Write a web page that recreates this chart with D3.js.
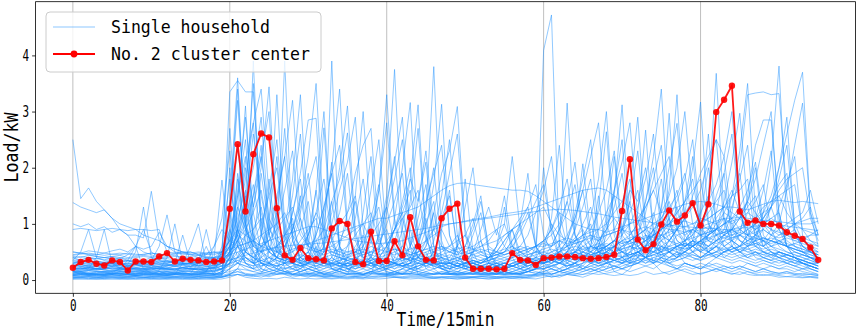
<!DOCTYPE html>
<html><head><meta charset="utf-8">
<script src="https://cdn.jsdelivr.net/npm/d3@7/dist/d3.min.js"></script>
<style>html,body{margin:0;padding:0;background:#fff;}svg{display:block;}</style>
</head><body>
<svg id="chart" width="858" height="331"></svg>
<script>
// ---------- DATA ----------
const timeIndex = Array.from({length: 96}, (_, i) => i);
const xTickValues = [0, 20, 40, 60, 80];
const yTickValues = [0, 1, 2, 3, 4];
const xTitle = "Time/15min";
const yTitle = "Load/kW";
const legendLabels = ["Single household", "No. 2 cluster center"];

const clusterCenter = [
 0.22,0.32,0.36,0.29,0.26,0.35,0.32,0.17,0.33,0.33,0.32,0.42,
 0.48,0.33,0.38,0.36,0.35,0.32,0.33,0.35,1.27,2.42,1.22,2.24,
 2.61,2.54,1.28,0.44,0.36,0.57,0.39,0.37,0.35,0.92,1.05,1.00,
 0.32,0.28,0.86,0.34,0.34,0.69,0.44,1.12,0.60,0.36,0.35,1.10,
 1.27,1.36,0.40,0.20,0.20,0.20,0.19,0.20,0.48,0.36,0.35,0.27,
 0.39,0.40,0.42,0.42,0.41,0.39,0.38,0.39,0.41,0.45,1.23,2.15,
 0.72,0.53,0.64,0.99,1.24,1.04,1.15,1.37,0.97,1.35,2.99,3.21,
 3.46,1.22,1.02,1.06,1.00,1.00,0.97,0.85,0.79,0.73,0.58,0.36];

const hh01 = [2.5,1.45,1.64,1.4,1.25,1.1,0.9,0.8,0.6,0.5,0.45,0.4,
 0.35,0.3,0.3,0.25,0.3,0.3,0.25,0.3,0.9,0.4,0.6,3.9,
 0.8,0.5,0.4,0.3,0.3,0.25,0.3,0.6,0.3,0.2,0.2,0.3,
 0.25,0.2,0.3,0.2,0.2,0.25,0.3,0.2,0.2,0.3,0.25,0.2,
 0.2,0.25,0.2,0.3,0.2,0.2,0.15,0.2,0.3,0.25,0.2,0.2,
 0.3,0.4,0.3,0.25,0.3,0.5,0.4,0.3,0.3,0.6,0.4,0.3,
 0.5,0.4,0.3,0.6,0.5,0.4,0.7,0.5,0.4,0.5,0.6,0.4,
 0.5,0.4,0.45,0.5,0.4,0.35,0.5,0.4,0.3,0.35,0.3,0.25];
const hh02 = [1.38,1.3,1.25,1.2,1.25,1.1,1.0,0.95,0.9,0.8,0.75,0.7,
 0.6,0.55,0.5,0.45,0.4,0.4,0.35,0.4,3.35,3.55,3.35,3.35,
 1.2,0.6,0.4,0.35,0.3,0.4,0.3,0.35,0.3,0.3,0.25,0.3,
 0.3,0.25,0.3,0.3,0.35,0.3,0.25,0.3,0.3,0.25,0.3,0.3,
 0.3,0.25,0.3,0.3,0.25,0.25,0.3,0.3,0.25,0.3,0.3,0.35,
 0.4,0.35,0.3,0.4,0.45,0.4,0.35,0.4,0.5,0.45,0.4,0.45,
 0.5,0.55,0.5,0.6,0.55,0.5,0.6,0.65,0.6,0.55,0.6,0.5,
 0.55,0.6,0.5,0.55,0.5,0.45,0.5,0.45,0.4,0.45,0.4,0.35];
const hh03 = [1.0,0.95,1.0,0.9,0.95,0.85,0.9,0.8,0.8,0.75,1.58,0.7,
 0.6,0.55,0.5,0.5,0.45,0.4,0.4,0.45,0.5,1.8,0.9,0.6,
 0.5,0.6,0.5,3.9,0.7,0.4,0.35,0.3,0.3,0.35,0.3,0.3,
 0.4,0.3,0.25,0.3,0.35,0.3,0.3,0.25,0.3,0.3,0.35,0.3,
 0.3,0.3,0.25,0.2,0.25,0.3,0.25,0.2,0.25,0.3,0.3,0.25,
 0.3,0.35,0.3,0.3,0.4,0.35,0.3,0.35,0.4,0.35,0.4,0.45,
 0.5,0.4,0.45,0.5,0.6,0.55,0.5,0.6,0.5,0.45,0.5,0.55,
 0.6,0.5,0.55,0.5,0.45,0.5,0.4,0.45,0.4,0.35,0.4,0.3];
const hh04 = [0.15,0.1,0.12,0.1,0.1,0.12,0.1,0.1,0.12,0.1,0.1,0.15,
 0.12,0.1,0.1,0.12,0.1,0.15,0.4,1.78,0.5,0.3,0.2,0.15,
 0.2,0.15,0.2,0.15,0.1,0.15,0.2,0.3,0.5,3.9,0.4,0.2,
 0.15,0.1,0.15,0.1,0.12,0.15,0.1,0.12,0.1,0.15,0.1,0.12,
 0.1,0.15,0.12,0.1,0.1,0.12,0.1,0.1,0.15,0.12,0.2,0.3,
 4.09,4.72,0.6,0.3,0.2,0.15,0.2,0.15,0.2,0.25,0.2,0.15,
 0.2,0.25,0.2,0.3,0.25,0.2,0.3,0.25,0.2,0.3,0.25,0.2,
 0.25,0.2,0.3,0.25,0.2,0.25,0.2,0.2,0.15,0.2,0.15,0.1];
const hh05 = [0.3,0.35,0.3,0.3,0.25,0.3,0.3,0.25,0.3,0.3,0.35,0.6,
 1.16,0.5,0.3,0.3,0.25,0.3,0.3,0.3,0.5,0.8,1.2,0.7,
 0.5,0.4,0.35,0.3,0.3,0.35,0.3,0.3,0.25,0.3,0.3,0.35,
 0.3,0.3,0.4,0.8,1.5,3.75,0.9,0.4,0.3,0.3,0.35,0.3,
 0.3,0.25,0.3,0.3,0.25,0.3,0.3,0.25,0.3,0.3,0.35,0.3,
 0.3,0.35,0.6,3.15,0.8,0.4,0.35,0.3,0.35,0.4,0.35,0.3,
 0.35,0.4,0.45,0.4,0.5,0.45,0.5,0.6,0.5,0.6,0.7,0.8,
 1.2,2.0,3.3,3.33,3.35,3.3,3.32,1.5,0.8,0.6,0.5,0.4];
const hh06 = [0.2,0.2,0.25,0.2,0.2,0.25,0.3,0.25,0.2,0.2,0.25,0.2,
 0.25,0.3,0.8,0.3,0.25,0.2,0.2,0.25,0.5,1.2,2.1,2.8,
 3.4,1.5,0.6,0.4,0.3,0.25,0.3,0.25,0.2,0.25,0.3,0.25,
 0.2,0.25,0.3,0.25,0.2,0.3,0.25,0.3,0.6,1.2,3.8,0.7,
 0.3,0.25,0.2,0.25,0.2,0.2,0.25,0.2,0.25,0.2,0.25,0.3,
 0.3,0.25,0.3,0.35,0.3,0.4,0.35,0.5,0.9,1.5,3.12,0.9,
 0.5,0.4,0.35,0.4,0.35,0.4,0.45,0.4,0.35,0.4,0.45,0.4,
 0.35,0.4,0.35,0.3,0.35,0.3,0.25,0.3,0.25,0.2,0.25,0.2];
const hh07 = [0.1,0.08,0.1,0.1,0.08,0.1,0.12,0.1,0.08,0.1,0.1,0.12,
 0.1,0.1,0.12,0.1,0.1,0.08,0.1,0.12,0.3,0.9,0.5,0.4,
 0.6,0.3,0.2,0.5,1.2,1.9,2.85,2.88,0.6,0.2,0.15,0.1,
 0.12,0.1,0.15,0.2,0.4,1.1,2.0,3.16,0.7,0.2,0.15,0.1,
 0.12,0.1,0.1,0.12,0.1,0.1,0.12,0.1,0.1,0.12,0.15,0.2,
 0.2,0.3,0.2,0.25,0.3,0.2,0.3,0.4,0.3,0.5,0.4,0.6,
 0.5,0.4,0.7,1.2,2.97,0.9,0.6,0.5,0.7,1.5,3.68,1.1,
 0.6,0.5,0.45,0.5,0.4,0.45,0.4,0.35,0.4,0.3,0.25,0.2];
const hh08 = [0.4,0.35,0.4,0.35,0.3,0.35,0.4,0.35,0.3,0.35,0.4,0.35,
 0.3,0.35,0.3,0.3,0.35,0.3,0.35,0.4,0.6,1.5,2.2,1.3,
 2.0,3.44,1.0,0.5,0.4,0.35,0.3,0.35,0.6,1.4,1.8,2.62,
 0.8,0.4,0.35,0.3,0.35,0.3,0.4,0.35,0.4,0.6,1.2,1.9,
 2.3,3.09,0.9,0.4,0.35,0.3,0.35,0.3,0.35,0.4,0.35,0.3,
 0.35,0.4,0.35,0.4,0.5,0.45,0.4,0.5,0.45,0.6,0.5,0.55,
 0.6,0.7,0.6,0.8,0.7,0.9,1.2,2.0,3.17,1.0,0.7,0.6,
 0.7,0.6,0.65,0.7,0.6,0.8,1.0,1.6,2.4,3.15,1.2,0.8];
const hh09 = [0.3,0.3,0.28,0.3,0.28,0.3,0.28,0.26,0.28,0.3,0.28,0.3,
 0.3,0.32,0.3,0.3,0.32,0.34,0.4,0.5,0.7,0.9,0.8,0.7,
 0.6,0.55,0.5,0.5,0.55,0.6,0.65,0.7,0.75,0.8,0.85,0.9,
 0.95,1.0,1.05,1.1,1.1,1.15,1.2,1.25,1.3,1.4,1.5,1.6,
 1.68,1.72,1.73,1.7,1.68,1.66,1.64,1.62,1.6,1.6,1.58,1.5,
 1.4,1.3,1.2,1.1,1.0,0.95,0.9,0.9,0.85,0.9,0.95,1.0,
 1.05,1.1,1.15,1.2,1.25,1.3,1.35,1.38,1.4,1.38,1.35,1.3,
 1.3,1.28,1.25,1.3,1.35,1.4,1.42,1.4,1.38,1.4,1.38,1.36];
const hh10 = [0.5,0.48,0.45,0.42,0.4,0.38,0.36,0.35,0.34,0.33,0.32,0.32,
 0.32,0.33,0.34,0.35,0.36,0.38,0.4,0.42,0.45,0.5,0.55,0.6,
 0.65,0.7,0.75,0.8,0.85,0.9,0.95,0.95,0.9,0.85,0.8,0.75,
 0.7,0.68,0.66,0.65,0.66,0.68,0.7,0.75,0.8,0.85,0.9,0.95,
 1.0,1.02,1.05,1.08,1.1,1.12,1.15,1.18,1.2,1.22,1.25,1.3,
 1.35,1.4,1.45,1.5,1.55,1.6,1.62,1.64,1.6,1.5,1.4,1.3,
 1.2,1.1,1.0,0.95,0.9,0.9,0.85,0.9,0.95,1.0,1.05,1.1,
 1.1,1.12,1.1,1.08,1.06,1.05,1.04,1.02,1.0,1.0,1.0,1.05];
const hh11 = [0.15,0.15,0.12,0.15,0.15,0.12,0.15,0.15,0.12,0.15,0.15,0.12,
 0.15,0.12,0.15,0.15,0.12,0.15,0.15,0.2,0.8,1.6,2.9,1.2,
 0.5,0.3,0.2,0.15,0.15,0.2,0.3,0.9,2.71,0.7,0.2,0.15,
 0.15,0.2,0.15,0.15,0.2,0.4,0.9,1.8,3.12,0.8,0.3,0.2,
 0.15,0.15,0.2,0.15,0.15,0.2,0.15,0.15,0.2,0.15,0.2,0.25,
 0.2,0.25,0.3,0.25,0.3,0.4,0.6,1.3,2.64,0.8,0.4,0.3,
 0.3,0.4,0.35,0.3,0.4,0.5,0.4,0.5,0.6,0.5,0.7,0.9,
 1.5,2.3,3.5,1.2,0.6,0.5,0.4,0.45,0.4,0.35,0.3,0.3];
const hh12 = [0.2,0.22,0.2,0.18,0.2,0.22,0.2,0.18,0.2,0.2,0.22,0.2,
 0.18,0.2,0.22,0.2,0.18,0.2,0.22,0.3,1.1,3.2,1.0,0.5,
 0.3,0.25,0.2,0.22,0.2,0.25,0.3,0.4,0.6,1.0,1.6,2.1,
 2.9,0.9,0.4,0.3,0.25,0.2,0.25,0.3,0.5,0.9,1.7,3.13,
 0.8,0.3,0.25,0.2,0.2,0.22,0.2,0.2,0.25,0.3,0.25,0.3,
 0.35,0.3,0.4,0.5,0.9,2.07,0.8,0.5,0.4,0.45,0.5,0.4,
 0.5,0.6,0.8,1.3,2.0,2.79,1.1,0.7,0.6,0.5,0.6,0.7,
 0.6,0.5,0.6,0.7,1.2,2.1,3.81,1.0,0.6,0.5,0.4,0.35];
const hh13 = [0.05,0.05,0.06,0.05,0.05,0.06,0.05,0.05,0.06,0.05,0.05,0.06,
 0.05,0.06,0.05,0.05,0.06,0.05,0.05,0.1,2.0,0.6,0.3,0.2,
 0.8,1.6,2.5,0.9,0.3,0.1,0.08,0.06,0.05,0.06,0.05,0.1,
 0.4,1.2,2.2,0.5,0.1,0.06,0.05,0.06,0.05,0.06,0.05,0.06,
 0.05,0.06,0.05,0.05,0.06,0.05,0.05,0.06,0.05,0.05,0.06,0.1,
 0.2,0.1,0.15,0.2,0.3,0.25,0.4,0.6,1.1,2.2,0.7,0.3,
 1.2,2.67,0.8,0.4,0.3,0.2,0.3,0.25,0.2,0.3,0.4,0.5,
 0.6,0.8,1.5,2.4,2.85,2.85,1.2,0.6,0.4,0.3,0.2,0.15];
const hh14 = [0.25,0.3,0.28,0.25,0.3,0.28,0.25,0.3,0.28,0.25,0.3,0.28,
 0.25,0.3,0.28,0.3,0.35,0.3,0.28,0.35,0.6,0.9,1.4,2.6,
 1.5,0.8,1.4,2.2,3.2,1.1,0.5,0.35,0.3,0.28,0.3,0.25,
 0.3,0.28,0.35,0.5,1.2,1.8,2.5,0.9,0.4,0.3,0.28,0.3,
 0.3,0.35,0.3,0.5,0.9,1.3,0.8,1.5,0.6,0.4,0.35,0.3,
 0.35,0.3,0.35,0.4,0.35,0.4,0.45,0.5,0.6,0.5,0.6,0.7,
 0.8,1.2,1.8,2.4,1.0,0.7,0.6,0.7,0.6,0.8,0.9,1.4,
 2.1,2.97,1.3,0.8,0.7,0.6,0.7,0.6,0.55,0.5,0.45,0.4];
const hh15 = [0.12,0.14,0.12,0.1,0.12,0.14,0.12,0.1,0.12,0.14,0.12,0.1,
 0.12,0.14,0.12,0.1,0.12,0.14,0.12,0.2,0.4,0.7,0.5,0.9,
 1.3,0.6,0.4,0.8,1.5,2.6,0.7,0.4,1.0,2.1,0.6,0.3,
 0.2,0.3,0.7,1.6,2.8,1.0,0.4,0.2,0.15,0.2,0.3,0.2,
 0.15,0.2,0.4,0.8,1.2,0.5,0.3,0.2,0.15,0.2,0.3,0.6,
 2.0,0.8,0.4,0.3,0.5,0.7,0.5,0.4,0.8,1.6,2.1,2.8,
 1.1,0.6,0.5,0.7,0.9,1.3,0.8,0.6,0.9,1.4,1.7,2.2,
 1.0,0.7,0.6,0.8,1.1,1.4,1.7,1.9,0.9,0.6,0.5,0.45];
const hh16 = [0.9,0.92,0.9,0.88,0.9,0.92,0.9,0.88,0.9,0.9,0.88,0.9,
 0.5,0.48,0.5,0.48,0.5,0.48,0.5,0.5,0.6,0.7,1.0,1.5,
 2.2,1.1,0.8,0.6,0.5,0.6,0.8,1.2,0.9,0.6,0.5,0.6,
 0.8,1.0,0.7,0.5,0.6,0.9,1.3,1.8,1.4,2.3,0.9,0.6,
 0.5,0.6,0.5,0.45,0.5,0.55,0.5,0.45,0.5,0.55,0.6,0.5,
 0.55,0.6,0.7,0.6,0.65,0.7,0.8,0.7,0.9,1.1,0.9,0.8,
 1.0,1.3,1.6,1.2,1.5,2.0,3.0,1.4,0.9,0.8,1.0,1.2,
 1.1,0.9,0.8,0.9,1.0,0.9,0.8,0.85,0.8,0.75,0.8,0.8];
const hh17 = [0.18,0.16,0.18,0.2,0.18,0.16,0.18,0.2,0.18,0.16,0.18,0.2,
 0.18,0.16,0.18,0.2,0.18,0.16,0.3,0.5,0.9,2.4,1.0,0.6,
 1.9,0.9,3.3,1.0,0.5,0.3,0.25,0.2,0.3,0.4,0.3,0.25,
 0.3,0.6,1.1,1.7,0.6,0.3,0.25,0.3,0.4,0.6,0.9,1.5,
 2.5,0.8,0.4,0.3,0.25,0.2,0.25,0.3,0.25,0.2,0.3,0.35,
 0.3,0.4,0.5,0.6,0.9,1.3,1.8,0.7,0.4,0.5,0.8,1.4,
 2.3,0.9,0.6,0.5,0.7,0.9,1.1,0.8,0.6,0.9,1.5,1.9,
 2.6,1.2,0.8,0.6,0.7,0.9,1.3,1.7,2.2,0.8,0.5,0.4];
const hh18 = [0.08,0.1,0.08,0.1,0.08,0.1,0.08,0.1,0.08,0.1,0.08,0.1,
 0.08,0.1,0.3,0.6,1.0,0.3,0.1,0.08,0.5,1.3,3.1,0.8,
 0.3,0.2,0.15,0.3,0.7,1.1,0.6,1.6,0.5,0.2,0.15,0.4,
 1.5,3.0,0.9,0.3,0.15,0.1,0.12,0.1,0.3,0.5,0.2,0.1,
 0.15,0.6,1.8,0.5,0.2,0.15,0.1,0.2,0.5,1.0,1.9,0.6,
 0.3,0.2,0.15,0.2,0.3,0.2,0.25,0.3,0.2,0.4,0.3,0.5,
 0.8,1.4,2.0,0.9,0.5,0.4,0.5,0.7,1.2,2.6,1.0,0.6,
 0.5,0.6,0.8,1.1,1.6,2.3,0.9,0.6,0.5,0.45,0.4,0.35];
const hh19 = [0.22,0.2,0.22,0.2,0.22,0.2,0.22,0.2,0.22,0.2,0.22,0.2,
 0.22,0.2,0.22,0.2,0.22,0.2,0.22,0.2,0.3,0.5,0.3,0.25,
 0.4,0.9,1.5,2.2,0.7,0.4,0.3,0.5,1.2,2.0,3.4,0.9,
 0.4,0.3,0.25,0.3,0.5,0.9,1.4,2.0,0.7,0.3,0.25,0.3,
 0.25,0.3,0.25,0.2,0.25,0.3,0.25,0.2,0.3,0.35,0.3,0.4,
 0.6,1.1,2.4,0.8,0.5,0.4,0.35,0.4,0.5,0.6,0.5,0.6,
 0.7,0.6,0.8,0.9,1.1,1.4,1.8,2.5,1.0,0.7,0.6,0.8,
 0.9,0.8,0.7,0.8,0.9,0.8,0.9,1.0,1.1,1.2,1.6,1.0];
const hh20 = [0.03,0.02,0.03,0.02,0.03,0.02,0.03,0.02,0.03,0.02,0.03,0.02,
 0.03,0.02,0.03,0.02,0.03,0.02,0.03,0.05,0.1,0.2,0.1,0.08,
 0.05,0.1,0.15,0.1,0.05,0.08,0.05,0.1,0.05,0.03,0.05,0.03,
 0.05,0.03,0.1,0.5,1.4,2.1,2.9,0.6,0.1,0.05,0.03,0.05,
 0.03,0.02,0.03,0.05,0.03,0.02,0.03,0.05,0.03,0.02,0.05,0.08,
 0.1,0.05,0.08,0.1,0.15,0.3,0.6,1.5,0.4,0.15,0.1,0.08,
 0.1,0.15,0.1,0.12,0.15,0.2,0.15,0.1,0.12,0.15,0.2,0.15,
 0.12,0.1,0.15,0.1,0.08,0.1,0.08,0.06,0.08,0.05,0.06,0.05];
const hh21 = [0.12,0.15,0.1,0.14,0.12,0.1,0.15,0.12,0.1,0.14,0.12,0.15,
 0.1,0.12,0.15,0.1,0.14,0.12,0.1,0.15,0.3,0.6,0.4,0.3,
 0.8,1.8,0.6,0.3,0.2,0.15,0.12,0.1,0.15,0.2,0.15,0.12,
 0.1,0.15,0.2,0.3,0.2,0.15,0.1,0.2,0.4,0.7,1.2,0.4,
 0.2,0.15,0.12,0.1,0.15,0.12,0.1,0.15,0.12,0.1,0.15,0.2,
 0.25,0.2,0.3,0.25,0.3,0.4,0.3,0.35,0.5,0.7,0.9,1.4,
 0.6,0.4,0.3,0.4,0.5,0.4,0.6,0.7,0.5,0.8,1.2,1.9,
 0.7,0.5,0.4,0.5,0.45,0.4,0.5,0.45,0.4,0.35,0.3,0.25];
const hh22 = [0.42,0.4,0.44,0.42,0.4,0.42,0.44,0.4,0.42,0.44,0.42,0.4,
 0.42,0.44,0.4,0.42,0.44,0.42,0.4,0.42,0.6,0.8,0.7,0.5,
 0.6,0.9,0.7,0.6,0.9,1.5,0.7,0.5,0.45,0.5,0.45,0.4,
 0.45,0.5,0.45,0.4,0.45,0.5,0.6,0.5,0.45,0.5,0.55,0.6,
 0.5,0.45,0.6,0.9,1.4,0.6,0.5,0.45,0.5,0.55,0.5,0.6,
 0.7,0.6,0.9,1.2,1.7,0.8,0.6,0.55,0.6,0.7,0.6,0.65,
 0.7,0.8,0.7,0.75,0.9,0.8,0.85,0.9,0.8,0.85,0.9,1.0,
 1.1,1.3,1.6,2.1,1.0,0.8,0.7,0.75,0.7,0.65,0.6,0.55];
const hh23 = [0.08,0.1,0.12,0.1,0.08,0.1,0.12,0.1,0.08,0.1,0.12,0.1,
 0.08,0.1,0.12,0.1,0.08,0.1,0.12,0.1,0.2,0.3,0.25,0.2,
 0.3,0.2,0.25,0.3,0.2,0.15,0.2,0.15,0.12,0.15,0.2,0.15,
 0.12,0.1,0.15,0.12,0.1,0.15,0.12,0.2,0.15,0.12,0.1,0.15,
 0.12,0.1,0.15,0.2,0.15,0.3,0.6,1.3,0.4,0.2,0.15,0.12,
 0.15,0.2,0.15,0.2,0.25,0.2,0.3,0.25,0.3,0.35,0.3,0.4,
 0.5,0.4,0.6,0.9,1.2,1.6,0.7,0.5,0.4,0.5,0.6,0.5,
 0.45,0.5,0.4,0.45,0.4,0.35,0.4,0.3,0.35,0.3,0.25,0.2];
const hh24 = [0.25,0.28,0.25,0.3,0.28,0.25,0.3,0.28,0.5,1.3,0.4,0.3,
 0.28,0.25,0.3,0.28,0.25,0.3,0.6,1.1,2.3,0.9,0.5,0.4,
 0.35,0.3,0.4,0.35,0.3,0.4,0.5,0.7,0.9,1.4,0.6,0.4,
 0.35,0.3,0.35,0.4,0.35,0.3,0.35,0.4,0.35,0.4,0.45,0.4,
 0.35,0.4,0.35,0.3,0.35,0.4,0.45,0.5,0.7,1.0,1.3,1.7,
 0.8,0.5,0.4,0.45,0.5,0.6,0.5,0.7,0.9,1.3,1.9,0.9,
 0.6,0.5,0.6,0.7,0.6,0.8,0.7,0.9,0.8,0.7,0.9,0.8,
 0.9,1.1,1.4,1.2,1.0,1.3,1.8,2.4,1.0,0.7,0.6,0.5];
const hh25 = [0.15,0.18,0.2,0.4,0.9,0.3,0.2,0.18,0.15,0.18,0.2,0.15,
 0.18,0.2,0.15,0.18,0.2,0.15,0.18,0.2,0.3,0.4,0.5,0.4,
 0.3,0.4,0.5,0.6,0.8,1.2,1.9,0.7,0.4,0.3,0.25,0.2,
 0.2,0.25,0.3,0.2,0.25,0.3,0.25,0.2,0.25,0.3,0.5,0.4,
 0.3,0.6,1.3,2.0,0.7,0.3,0.25,0.2,0.25,0.3,0.25,0.3,
 0.35,0.4,0.5,0.7,1.2,1.8,2.5,0.8,0.5,0.4,0.35,0.4,
 0.5,0.6,1.1,1.8,0.8,0.6,0.5,0.6,0.7,0.6,0.5,0.6,
 0.7,0.9,1.2,1.4,1.7,0.9,0.6,0.5,0.45,0.4,0.35,0.3];
const hh26 = [0.35,0.34,0.33,0.32,0.31,0.3,0.3,0.29,0.28,0.28,0.27,0.27,
 0.27,0.28,0.28,0.29,0.3,0.31,0.32,0.34,0.36,0.4,0.44,0.48,
 0.52,0.55,0.58,0.6,0.62,0.63,0.64,0.65,0.66,0.68,0.7,0.72,
 0.74,0.76,0.78,0.8,0.82,0.84,0.86,0.88,0.9,0.92,0.95,0.98,
 1.0,1.02,1.04,1.06,1.08,1.1,1.12,1.14,1.16,1.18,1.2,1.22,
 1.24,1.25,1.26,1.25,1.24,1.22,1.2,1.18,1.15,1.12,1.1,1.08,
 1.06,1.04,1.02,1.0,0.98,0.96,0.95,0.94,0.93,0.92,0.91,0.9,
 0.9,0.92,0.94,0.96,0.98,1.0,0.98,0.96,0.94,0.92,0.9,0.88];
const hh27 = [0.1,0.12,0.1,0.08,0.1,0.12,0.1,0.08,0.1,0.12,0.1,0.08,
 0.1,0.12,0.1,0.08,0.1,0.12,0.1,0.15,0.4,0.9,1.5,0.5,
 0.2,0.15,0.1,0.12,0.1,0.15,0.2,0.15,0.1,0.12,0.15,0.1,
 0.12,0.1,0.15,0.12,0.1,0.15,0.2,0.3,0.6,1.1,0.4,0.2,
 0.15,0.12,0.1,0.15,0.12,0.1,0.12,0.15,0.1,0.12,0.15,0.2,
 0.5,1.0,0.4,0.2,0.15,0.2,0.25,0.2,0.3,0.25,0.2,0.3,
 0.35,0.3,0.4,0.35,0.3,0.4,0.5,0.4,0.35,0.45,0.5,0.7,
 0.9,1.3,0.6,0.4,0.35,0.3,0.35,0.3,0.25,0.3,0.25,0.2];
const hh28 = [0.3,0.32,0.3,0.28,0.3,0.32,0.3,0.28,0.3,0.32,0.3,0.28,
 0.3,0.32,0.3,0.28,0.3,0.32,0.3,0.35,0.5,0.8,1.4,2.0,
 2.9,1.0,0.5,0.4,0.35,0.3,0.35,0.4,0.35,0.3,0.35,0.4,
 0.5,0.7,1.0,1.3,0.6,0.4,0.35,0.4,0.35,0.3,0.35,0.4,
 0.35,0.4,0.45,0.5,0.6,0.7,0.9,0.6,0.45,0.4,0.45,0.5,
 0.45,0.5,0.55,0.6,0.7,0.8,0.9,1.2,1.6,2.3,0.9,0.7,
 0.6,0.7,0.8,0.7,0.8,0.9,0.8,0.9,1.0,1.1,1.2,1.3,
 1.6,1.2,1.0,0.9,1.0,1.1,1.0,0.9,1.0,1.05,1.1,1.1];
const hh29 = [0.06,0.05,0.06,0.05,0.06,0.05,0.06,0.05,0.06,0.05,0.06,0.05,
 0.06,0.05,0.06,0.05,0.06,0.05,0.06,0.05,0.08,0.1,0.08,0.1,
 0.12,0.3,0.6,0.8,1.1,0.3,0.1,0.08,0.06,0.08,0.06,0.05,
 0.06,0.05,0.06,0.08,0.06,0.05,0.06,0.08,0.1,0.08,0.06,0.05,
 0.06,0.05,0.06,0.05,0.06,0.08,0.06,0.05,0.06,0.08,0.1,0.08,
 0.1,0.12,0.1,0.15,0.12,0.1,0.15,0.2,0.15,0.2,0.25,0.3,
 0.4,0.6,0.9,0.5,0.3,0.25,0.3,0.25,0.2,0.25,0.3,0.25,
 0.2,0.25,0.2,0.15,0.2,0.15,0.12,0.15,0.12,0.1,0.1,0.08];
const hh30 = [0.2,0.18,0.22,0.2,0.18,0.22,0.2,0.18,0.22,0.2,0.18,0.22,
 0.2,0.18,0.22,0.2,0.18,0.22,0.2,0.25,0.4,0.3,0.5,0.4,
 0.3,0.25,0.3,0.4,0.3,0.25,0.3,0.35,0.5,0.8,1.2,1.9,
 0.7,0.4,0.3,0.25,0.3,0.25,0.3,0.35,0.3,0.25,0.3,0.25,
 0.3,0.25,0.3,0.35,0.3,0.4,0.6,1.0,2.2,0.9,0.5,0.4,
 0.35,0.4,0.45,0.4,0.5,0.45,0.4,0.5,0.6,0.5,0.6,0.7,
 0.8,0.7,0.9,1.1,1.4,0.9,0.7,0.8,1.1,2.0,1.0,0.8,
 0.7,0.6,0.7,0.65,0.6,0.7,0.65,0.6,0.55,0.5,0.5,0.45];
const hh31 = [0.14,0.12,0.13,0.12,0.14,0.12,0.13,0.12,0.14,0.12,0.13,0.12,
 0.14,0.12,0.13,0.12,0.3,0.9,0.3,0.15,0.2,0.3,0.4,0.3,
 0.5,0.8,1.2,0.5,0.3,0.2,0.15,0.2,0.15,0.12,0.15,0.2,
 0.15,0.12,0.15,0.2,0.15,0.12,0.15,0.2,0.25,0.3,0.4,0.5,
 0.6,0.8,0.4,0.2,0.15,0.12,0.15,0.12,0.15,0.2,0.15,0.2,
 0.2,0.25,0.3,0.4,0.6,0.8,1.0,0.5,0.3,0.35,0.3,0.4,
 0.35,0.4,0.45,0.5,0.4,0.5,0.45,0.5,0.55,0.5,0.6,0.55,
 0.5,0.55,0.6,0.65,0.7,0.6,0.65,0.8,0.9,0.6,0.5,0.4];
const hh32 = [0.45,0.48,0.46,0.45,0.48,0.46,0.45,0.48,0.46,0.45,0.48,0.46,
 0.45,0.48,0.46,0.45,0.48,0.46,0.45,0.5,0.7,1.3,0.9,0.6,
 0.5,0.55,0.6,0.7,0.9,1.3,1.7,2.2,0.8,0.5,0.45,0.5,
 0.55,0.5,0.6,0.55,0.7,0.9,1.1,1.3,1.6,0.7,0.5,0.45,
 0.5,0.45,0.5,0.55,0.5,0.45,0.5,0.55,0.6,0.5,0.55,0.6,
 0.7,0.8,1.0,1.4,0.8,0.6,0.55,0.6,0.65,0.6,0.7,0.75,
 0.8,0.9,0.8,0.9,1.0,1.2,1.4,1.6,1.8,1.0,0.8,0.9,
 0.85,0.9,0.8,0.85,0.9,0.8,0.75,0.8,0.7,0.75,0.7,0.65];
const hh33 = [0.04,0.06,0.05,0.04,0.06,0.05,0.04,0.06,0.05,0.04,0.06,0.05,
 0.04,0.06,0.05,0.04,0.06,0.05,0.04,0.06,0.1,0.15,0.1,0.08,
 0.1,0.08,0.12,0.1,0.08,0.1,0.12,0.1,0.08,0.1,0.12,0.1,
 0.08,0.1,0.12,0.1,0.08,0.1,0.12,0.1,0.08,0.1,0.12,0.1,
 0.1,0.12,0.3,0.5,0.7,0.3,0.15,0.1,0.12,0.1,0.08,0.1,
 0.12,0.1,0.15,0.12,0.1,0.15,0.2,0.15,0.2,0.25,0.2,0.25,
 0.3,0.25,0.3,0.35,0.3,0.35,0.4,0.35,0.4,0.45,0.4,0.5,
 0.55,0.6,0.8,1.0,0.7,0.5,0.45,0.4,0.35,0.3,0.25,0.2];
const hh34 = [0.26,0.24,0.26,0.24,0.26,0.24,0.26,0.24,0.26,0.24,0.26,0.24,
 0.26,0.24,0.26,0.24,0.26,0.24,0.26,0.3,0.35,0.4,0.35,0.3,
 0.35,0.4,0.35,0.3,0.35,0.5,0.8,1.2,1.8,0.7,0.4,0.35,
 0.3,0.35,0.3,0.35,0.3,0.35,0.4,0.35,0.5,0.7,0.9,1.1,
 1.5,0.6,0.4,0.35,0.3,0.35,0.4,0.5,0.7,0.9,1.2,0.6,
 0.4,0.35,0.4,0.45,0.4,0.5,0.45,0.5,0.6,0.7,0.9,1.2,
 1.6,0.8,0.6,0.55,0.6,0.65,0.6,0.7,0.65,0.6,0.7,0.75,
 0.7,0.8,0.9,1.0,1.1,1.3,0.9,0.7,0.6,0.55,0.5,0.45];
const hh35 = [0.35,0.5,0.9,0.4,0.35,0.36,0.34,0.35,0.36,0.34,0.35,0.36,
 0.34,0.35,0.36,0.34,0.35,0.36,0.34,0.35,0.5,0.7,1.1,1.7,
 0.8,0.5,0.4,0.35,0.4,0.45,0.4,0.35,0.4,0.45,0.4,0.35,
 0.4,0.45,0.5,0.7,0.9,0.5,0.4,0.35,0.4,0.35,0.4,0.45,
 0.4,0.35,0.4,0.45,0.4,0.35,0.4,0.45,0.5,0.6,0.8,1.2,
 1.6,2.2,0.9,0.6,0.5,0.55,0.5,0.6,0.55,0.6,0.7,0.65,
 0.7,0.75,0.8,0.9,1.0,1.1,1.2,1.4,1.0,0.9,0.8,0.85,
 0.9,0.8,0.75,0.7,0.75,0.7,0.65,0.6,0.65,0.6,0.55,0.5];
const hh36 = [0.16,0.15,0.17,0.16,0.15,0.17,0.16,0.15,0.17,0.16,0.15,0.17,
 0.4,1.0,0.3,0.16,0.15,0.17,0.16,0.2,0.25,0.3,0.25,0.2,
 0.25,0.3,0.25,0.2,0.25,0.3,0.25,0.2,0.25,0.3,0.25,0.2,
 0.25,0.3,0.25,0.2,0.25,0.3,0.25,0.2,0.25,0.3,0.25,0.2,
 0.25,0.2,0.25,0.3,0.25,0.2,0.25,0.3,0.4,0.5,0.4,0.35,
 0.4,0.5,0.6,0.8,1.1,1.6,2.2,2.8,1.0,0.6,0.5,0.45,
 0.5,0.45,0.5,0.55,0.5,0.6,0.55,0.6,0.7,0.8,0.9,1.2,
 1.5,1.9,0.9,0.6,0.5,0.45,0.5,0.45,0.4,0.35,0.3,0.3];
const hh37 = [0.22,0.28,0.24,0.2,0.26,0.3,0.22,0.25,0.28,0.22,0.26,0.24,
 0.2,0.26,0.28,0.24,0.3,0.6,0.3,0.25,0.28,0.35,0.3,0.25,
 0.3,0.28,0.25,0.3,0.35,0.3,0.28,0.25,0.3,0.28,0.25,0.3,
 0.28,0.25,0.3,0.35,0.3,0.28,0.25,0.3,0.35,0.3,0.28,0.3,
 0.35,0.3,0.28,0.3,0.35,0.4,0.5,0.7,0.9,0.5,0.4,0.35,
 0.3,0.35,0.4,0.35,0.3,0.35,0.4,0.45,0.4,0.45,0.5,0.45,
 0.5,0.55,0.5,0.6,0.55,0.6,0.65,0.6,0.7,0.8,0.9,1.1,
 0.8,0.7,0.65,0.6,0.55,0.6,0.55,0.5,0.45,0.4,0.35,0.3];
const hh38 = [0.1,0.12,0.09,0.11,0.1,0.13,0.2,0.35,0.6,0.2,0.12,0.1,
 0.11,0.09,0.12,0.1,0.11,0.13,0.1,0.12,0.15,0.2,0.18,0.15,
 0.12,0.15,0.18,0.15,0.12,0.1,0.12,0.15,0.12,0.1,0.2,0.4,
 0.6,0.8,0.3,0.15,0.12,0.1,0.12,0.15,0.12,0.1,0.12,0.15,
 0.12,0.1,0.12,0.15,0.12,0.1,0.12,0.15,0.12,0.1,0.15,0.2,
 0.25,0.3,0.4,0.5,0.7,0.4,0.3,0.25,0.3,0.35,0.3,0.35,
 0.4,0.35,0.4,0.45,0.4,0.45,0.5,0.45,0.4,0.45,0.5,0.45,
 0.4,0.45,0.4,0.35,0.4,0.35,0.3,0.35,0.3,0.25,0.2,0.15];
const hh39 = [0.5,0.48,0.52,0.5,0.48,0.52,0.55,0.5,0.6,0.55,0.6,0.85,
 0.6,0.5,0.48,0.5,0.45,0.48,0.5,0.45,0.55,0.6,0.65,0.7,
 0.6,0.7,0.9,1.1,1.3,0.8,0.6,0.55,0.5,0.55,0.5,0.45,
 0.5,0.45,0.5,0.55,0.5,0.45,0.5,0.55,0.6,0.7,0.8,0.9,
 0.6,0.5,0.45,0.5,0.55,0.5,0.45,0.5,0.55,0.6,0.55,0.6,
 0.65,0.6,0.7,0.65,0.7,0.75,0.8,0.75,0.8,0.85,0.9,0.85,
 0.9,0.95,0.9,1.0,0.95,1.0,1.05,1.0,1.1,1.05,1.0,1.1,
 1.0,1.1,1.2,1.1,1.3,1.4,1.5,1.2,1.0,0.9,0.85,0.8];
const hh40 = [0.01,0.02,0.01,0.02,0.01,0.02,0.01,0.02,0.01,0.02,0.01,0.02,
 0.01,0.02,0.01,0.02,0.01,0.02,0.01,0.02,0.05,0.1,0.05,0.03,
 0.02,0.03,0.02,0.05,0.03,0.02,0.03,0.02,0.03,0.02,0.03,0.02,
 0.03,0.02,0.03,0.02,0.03,0.05,0.03,0.02,0.03,0.02,0.03,0.02,
 0.03,0.02,0.03,0.02,0.03,0.02,0.03,0.02,0.03,0.05,0.03,0.02,
 0.05,0.08,0.05,0.1,0.08,0.05,0.1,0.15,0.1,0.08,0.1,0.2,
 0.4,0.8,0.3,0.15,0.1,0.15,0.2,0.15,0.1,0.15,0.2,0.15,
 0.1,0.15,0.1,0.08,0.1,0.08,0.05,0.06,0.05,0.04,0.05,0.03];
const hh41 = [0.2,0.22,0.18,0.2,0.24,0.2,0.18,0.22,0.2,0.18,0.2,0.22,
 0.2,0.18,0.22,0.2,0.18,0.2,0.22,0.3,0.8,1.5,2.5,0.7,
 0.4,0.3,0.25,0.3,0.6,0.9,1.4,0.5,0.3,0.25,0.2,0.25,
 0.3,0.25,0.2,0.3,0.4,0.7,1.1,0.6,1.4,2.1,0.6,0.3,
 0.25,0.2,0.25,0.3,0.25,0.2,0.25,0.3,0.25,0.3,0.35,0.3,
 0.35,0.4,0.35,0.4,0.45,0.4,0.5,0.45,0.5,0.6,0.55,0.7,
 0.8,0.9,1.2,0.7,0.5,0.6,0.55,0.6,0.7,0.6,0.8,1.0,
 1.3,1.8,2.4,0.9,0.6,0.5,0.45,0.4,0.35,0.3,0.3,0.25];
const hh42 = [0.1,0.12,0.1,0.11,0.1,0.12,0.1,0.11,0.1,0.12,0.1,0.11,
 0.1,0.12,0.1,0.11,0.1,0.12,0.1,0.15,0.4,1.9,0.6,0.3,
 0.2,0.5,1.1,2.7,0.8,0.3,0.2,0.15,0.1,0.15,0.2,0.15,
 0.3,0.8,1.6,2.5,0.7,0.3,0.2,0.15,0.2,0.3,0.5,0.9,
 1.6,0.5,0.2,0.15,0.1,0.12,0.1,0.15,0.12,0.1,0.15,0.2,
 0.2,0.25,0.2,0.3,0.25,0.3,0.35,0.3,0.4,0.35,0.4,0.5,
 0.4,0.5,0.6,0.5,0.7,0.9,1.4,2.2,0.8,0.5,0.4,0.5,
 0.6,0.5,0.6,0.7,0.9,1.3,2.0,2.9,0.9,0.5,0.4,0.3];
const hh43 = [0.3,0.32,0.34,0.3,0.28,0.3,0.32,0.34,0.3,0.28,0.3,0.32,
 0.34,0.3,0.28,0.3,0.32,0.34,0.3,0.35,0.5,0.7,0.9,1.2,
 1.6,0.8,0.5,0.4,0.35,0.4,0.5,0.8,1.3,1.9,2.4,0.9,
 0.5,0.4,0.45,0.6,1.0,1.4,1.9,0.7,0.4,0.35,0.4,0.35,
 0.4,0.6,0.8,1.1,0.5,0.4,0.35,0.4,0.35,0.3,0.35,0.4,
 0.45,0.4,0.5,0.45,0.5,0.6,0.7,0.9,1.2,1.5,0.8,0.6,
 0.55,0.6,0.7,0.8,0.7,0.9,1.1,1.5,1.9,2.2,2.5,1.0,
 0.7,0.6,0.55,0.6,0.5,0.55,0.5,0.45,0.5,0.45,0.4,0.4];
const hh44 = [0.07,0.06,0.08,0.07,0.06,0.08,0.07,0.06,0.08,0.07,0.06,0.08,
 0.07,0.06,0.08,0.07,0.06,0.08,0.07,0.06,0.1,0.2,0.5,1.3,
 2.2,3.0,0.8,0.2,0.1,0.08,0.07,0.08,0.07,0.06,0.08,0.07,
 0.06,0.08,0.07,0.06,0.08,0.1,0.2,0.4,0.7,1.0,1.4,0.3,
 0.1,0.08,0.07,0.06,0.08,0.07,0.06,0.08,0.07,0.06,0.08,0.1,
 0.12,0.1,0.15,0.12,0.15,0.2,0.15,0.2,0.25,0.2,0.3,0.25,
 0.3,0.4,0.6,0.8,1.1,0.5,0.3,0.25,0.3,0.25,0.2,0.25,
 0.2,0.25,0.2,0.15,0.2,0.15,0.12,0.15,0.1,0.12,0.1,0.08];
const hh45 = [0.18,0.2,0.22,0.2,0.18,0.15,0.2,0.22,0.2,0.18,0.2,0.22,
 0.2,0.18,0.2,0.22,0.2,0.18,0.25,0.5,1.2,0.6,0.4,0.3,
 0.25,0.3,0.5,0.9,1.8,3.3,1.0,0.4,0.3,0.25,0.3,0.6,
 1.1,1.8,0.7,0.3,0.25,0.3,0.6,1.4,2.7,0.8,0.3,0.25,
 0.2,0.25,0.3,0.25,0.2,0.25,0.3,0.25,0.2,0.25,0.3,0.35,
 0.3,0.35,0.4,0.5,0.7,1.0,1.3,0.6,0.4,0.35,0.4,0.5,
 0.6,0.5,0.7,1.0,1.6,3.3,0.9,0.6,0.5,0.6,0.7,0.8,
 0.9,1.1,1.4,2.0,0.8,0.6,0.5,0.45,0.4,0.35,0.3,0.25];
const hh46 = [0.38,0.36,0.4,0.38,0.36,0.4,0.38,0.45,0.6,0.9,0.5,0.4,
 0.38,0.36,0.4,0.38,0.36,0.4,0.38,0.4,0.6,1.0,1.8,2.8,
 1.0,0.5,0.4,0.45,0.5,0.7,0.9,1.1,0.6,0.45,0.4,0.45,
 0.5,0.6,0.9,1.6,3.3,1.1,0.5,0.4,0.45,0.4,0.35,0.4,
 0.45,0.4,0.35,0.4,0.45,0.4,0.45,0.5,0.6,0.8,1.1,1.4,
 1.7,0.9,0.6,0.5,0.55,0.5,0.6,0.55,0.6,0.7,0.65,0.7,
 0.8,0.7,0.9,0.8,1.0,0.9,1.1,1.3,1.6,2.1,2.5,2.2,
 3.0,1.2,0.8,0.7,0.75,0.7,0.65,0.6,0.55,0.5,0.5,0.45];
const hh47 = [0.08,0.1,0.09,0.08,0.1,0.09,0.08,0.1,0.09,0.08,0.1,0.09,
 0.08,0.1,0.09,0.08,0.1,0.09,0.08,0.12,1.4,3.6,0.9,0.3,
 0.15,0.12,0.1,0.12,0.15,0.2,0.4,0.8,1.3,1.9,0.6,0.2,
 0.12,0.1,0.12,0.1,0.09,0.12,0.1,0.12,0.15,0.12,0.1,0.12,
 0.1,0.09,0.1,0.12,0.1,0.09,0.1,0.12,0.1,0.12,0.15,0.12,
 0.15,0.2,0.15,0.2,0.25,0.3,0.4,0.6,1.0,1.6,2.5,0.7,
 0.4,0.3,0.35,0.3,0.4,0.35,0.4,0.45,0.4,0.5,0.45,0.5,
 0.55,0.6,0.7,0.8,1.0,1.1,1.2,0.6,0.4,0.3,0.25,0.2];
const hh48 = [0.25,0.27,0.25,0.23,0.25,0.27,0.25,0.23,0.25,0.27,0.25,0.23,
 0.25,0.27,0.25,0.23,0.25,0.27,0.25,0.3,0.45,0.6,0.5,0.7,
 1.0,1.5,2.0,0.8,0.4,0.3,0.35,0.4,0.5,0.7,1.0,1.2,
 1.5,0.6,0.4,0.3,0.35,0.3,0.4,0.6,0.9,1.4,1.9,2.4,
 0.8,0.4,0.3,0.35,0.3,0.35,0.3,0.35,0.4,0.45,0.5,0.6,
 0.7,0.9,1.3,1.8,0.8,0.5,0.45,0.5,0.55,0.6,0.7,0.8,
 1.0,1.4,2.2,3.4,1.1,0.7,0.6,0.7,0.65,0.7,0.8,0.75,
 0.8,0.9,1.0,0.9,1.1,1.3,1.6,1.8,1.9,2.0,1.1,0.7];
const hh49 = [0.44,0.46,0.48,0.46,0.44,0.46,0.48,0.46,0.44,0.46,0.48,0.46,
 0.44,0.46,0.48,0.46,0.44,0.46,0.48,0.5,0.7,1.1,1.6,0.8,
 0.6,0.7,1.0,1.6,2.3,0.9,0.6,0.5,0.55,0.6,0.7,0.8,
 0.9,1.0,1.2,0.7,0.5,0.55,0.5,0.45,0.5,0.55,0.5,0.6,
 0.55,0.5,0.55,0.6,0.7,0.8,0.9,1.0,0.6,0.5,0.55,0.6,
 0.6,0.65,0.7,0.75,0.7,0.8,0.85,0.9,1.0,1.2,1.4,1.8,
 1.0,0.8,0.75,0.8,0.85,0.9,0.95,1.0,1.05,1.1,1.2,1.3,
 1.2,1.1,1.3,1.5,1.0,0.9,0.85,0.8,0.75,0.7,0.65,0.6];
const hh50 = [0.15,0.14,0.16,0.15,0.14,0.16,0.15,0.14,0.16,0.15,0.14,0.16,
 0.15,0.14,0.16,0.15,0.14,0.16,0.15,0.2,0.3,0.6,1.5,3.5,
 0.9,0.4,0.3,0.25,0.3,0.4,0.8,1.6,3.0,0.8,0.3,0.2,
 0.25,0.3,0.4,0.8,1.3,2.2,0.7,0.3,0.2,0.25,0.2,0.25,
 0.2,0.25,0.2,0.25,0.3,0.4,0.6,0.8,0.9,1.0,0.4,0.3,
 0.3,0.35,0.3,0.4,0.35,0.4,0.5,0.6,0.7,0.9,1.2,1.6,
 1.4,2.0,0.9,0.6,0.5,0.6,0.7,0.8,1.0,1.2,1.4,1.6,
 0.9,0.7,0.6,0.65,0.6,0.7,0.8,0.9,1.0,1.1,1.3,0.8];
const hh51 = [0.05,0.04,0.06,0.05,0.04,0.06,0.05,0.04,0.06,0.05,0.04,0.06,
 0.05,0.04,0.06,0.05,0.04,0.06,0.05,0.08,0.12,0.15,0.12,0.1,
 0.12,0.1,0.15,0.12,0.1,0.08,0.1,0.12,0.1,0.08,0.1,0.12,
 0.1,0.08,0.1,0.12,0.1,0.08,0.1,0.12,0.1,0.08,0.1,0.12,
 0.1,0.12,0.15,0.12,0.15,0.2,0.4,0.6,0.9,0.4,0.2,0.15,
 0.12,0.15,0.2,0.15,0.2,0.25,0.2,0.25,0.3,0.25,0.3,0.35,
 0.3,0.35,0.3,0.4,0.35,0.4,0.5,0.6,0.7,0.5,0.4,0.35,
 0.3,0.35,0.3,0.25,0.3,0.25,0.2,0.25,0.2,0.15,0.12,0.1];
const hh52 = [0.28,0.25,0.22,0.25,0.28,0.25,0.22,0.25,0.28,0.25,0.22,0.25,
 0.28,0.25,0.22,0.25,0.28,0.25,0.22,0.25,0.3,0.35,0.4,0.35,
 0.4,0.5,0.6,0.8,1.0,0.5,0.35,0.3,0.35,0.3,0.35,0.4,
 0.35,0.3,0.35,0.4,0.6,0.9,1.2,0.6,0.4,0.35,0.3,0.35,
 0.3,0.35,0.3,0.35,0.3,0.35,0.4,0.35,0.4,0.45,0.4,0.45,
 0.5,0.45,0.5,0.6,0.75,0.9,0.6,0.5,0.55,0.5,0.55,0.6,
 0.55,0.6,0.65,0.6,0.7,0.65,0.7,0.75,0.8,0.85,0.9,1.0,
 1.05,1.1,0.9,0.8,0.75,0.7,0.65,0.6,0.55,0.5,0.45,0.4];
const hh53 = [0.12,0.13,0.11,0.12,0.13,0.11,0.12,0.13,0.11,0.12,0.13,0.11,
 0.12,0.13,0.11,0.12,0.13,0.11,0.12,0.5,2.7,0.8,0.3,0.2,
 0.15,0.2,0.15,0.2,0.25,0.2,0.3,0.4,0.7,1.2,2.0,3.1,
 0.9,0.3,0.2,0.15,0.2,0.15,0.2,0.25,0.2,0.15,0.2,0.25,
 0.2,0.3,0.6,1.0,1.5,0.5,0.25,0.2,0.25,0.2,0.25,0.3,
 0.3,0.35,0.3,0.4,0.5,0.7,1.1,1.8,3.0,0.9,0.5,0.4,
 0.45,0.4,0.5,0.45,0.5,0.6,0.7,0.9,1.2,1.5,0.8,0.6,
 0.5,0.55,0.5,0.45,0.5,0.45,0.4,0.35,0.3,0.3,0.25,0.2];
const hh54 = [0.33,0.32,0.34,0.33,0.32,0.34,0.33,0.32,0.34,0.33,0.32,0.34,
 0.33,0.32,0.34,0.33,0.32,0.34,0.33,0.35,0.45,0.6,0.8,0.9,
 1.1,0.6,0.4,0.35,0.4,0.35,0.4,0.35,0.4,0.35,0.4,0.35,
 0.4,0.35,0.4,0.35,0.4,0.35,0.4,0.45,0.4,0.45,0.5,0.55,
 0.6,0.7,0.8,0.55,0.45,0.4,0.45,0.4,0.45,0.5,0.45,0.5,
 0.5,0.55,0.5,0.55,0.6,0.55,0.6,0.65,0.6,0.7,0.65,0.7,
 0.8,0.9,1.0,1.1,1.3,1.5,1.9,1.0,0.8,0.75,0.8,0.85,
 0.9,0.95,1.0,1.1,1.2,1.3,1.5,1.6,1.7,0.9,0.7,0.6];
const hh55 = [0.03,0.04,0.03,0.02,0.03,0.04,0.03,0.02,0.03,0.04,0.03,0.02,
 0.03,0.04,0.03,0.02,0.03,0.04,0.03,0.05,0.08,0.1,0.08,0.06,
 0.08,0.06,0.1,0.15,0.2,0.3,0.5,0.2,0.1,0.08,0.06,0.05,
 0.06,0.05,0.04,0.05,0.06,0.05,0.04,0.05,0.06,0.05,0.04,0.05,
 0.06,0.05,0.04,0.05,0.06,0.05,0.04,0.05,0.06,0.05,0.04,0.06,
 0.08,0.06,0.08,0.1,0.08,0.1,0.12,0.1,0.12,0.15,0.2,0.25,
 0.3,0.4,0.6,0.35,0.25,0.2,0.25,0.2,0.25,0.2,0.15,0.2,
 0.15,0.2,0.15,0.12,0.15,0.12,0.1,0.12,0.1,0.08,0.06,0.05];
const hh56 = [0.2,0.21,0.19,0.2,0.21,0.19,0.2,0.21,0.19,0.2,0.21,0.19,
 0.2,0.21,0.19,0.2,0.21,0.19,0.2,0.4,1.2,3.4,1.0,0.4,
 0.5,1.1,2.2,0.7,0.3,0.25,0.2,0.25,0.3,0.4,0.7,1.0,
 1.4,0.5,0.3,0.25,0.2,0.25,0.3,0.4,0.7,1.3,2.0,0.6,
 0.3,0.25,0.2,0.25,0.2,0.25,0.3,0.25,0.3,0.35,0.4,0.5,
 0.7,0.9,1.2,0.6,0.4,0.35,0.4,0.45,0.5,0.6,0.9,1.6,
 2.9,1.0,0.6,0.5,0.55,0.6,0.65,0.6,0.7,0.8,0.9,1.0,
 1.1,1.2,1.4,1.8,2.4,3.0,1.1,0.6,0.5,0.45,0.4,0.35];
const hh57 = [0.4,0.42,0.4,0.38,0.4,0.42,0.4,0.38,0.4,0.42,0.4,0.38,
 0.4,0.42,0.4,0.38,0.4,0.45,0.6,0.9,0.7,0.6,0.65,0.7,
 0.8,0.9,1.0,1.2,0.8,0.6,0.55,0.5,0.55,0.5,0.55,0.5,
 0.5,0.55,0.5,0.45,0.5,0.55,0.5,0.45,0.5,0.55,0.6,0.55,
 0.5,0.55,0.6,0.55,0.6,0.65,0.7,0.8,0.9,1.0,1.1,1.2,
 1.3,1.0,0.8,0.7,0.65,0.7,0.75,0.7,0.8,0.85,0.9,1.0,
 1.1,1.3,1.6,1.9,2.2,1.2,0.9,0.85,0.9,0.95,0.9,0.85,
 0.8,0.85,0.8,0.75,0.7,0.75,0.7,0.65,0.6,0.55,0.5,0.5];
const hh58 = [0.08,0.09,0.08,0.07,0.08,0.09,0.08,0.07,0.08,0.09,0.08,0.07,
 0.08,0.09,0.08,0.07,0.08,0.09,0.08,0.1,0.2,0.4,0.8,1.5,
 2.4,0.8,0.3,0.15,0.1,0.12,0.1,0.15,0.2,0.3,0.6,1.2,
 1.9,2.4,2.7,0.8,0.3,0.2,0.3,0.6,1.1,1.7,0.6,0.2,
 0.12,0.1,0.12,0.1,0.12,0.15,0.12,0.1,0.12,0.15,0.2,0.3,
 0.4,0.6,0.9,1.4,2.1,0.8,0.4,0.3,0.35,0.3,0.35,0.4,
 0.45,0.4,0.5,0.45,0.5,0.55,0.6,0.7,0.8,0.9,1.1,1.3,
 1.5,1.6,1.8,0.7,0.5,0.4,0.35,0.3,0.25,0.2,0.2,0.15];
const hh59 = [0.22,0.24,0.22,0.2,0.22,0.24,0.22,0.2,0.22,0.24,0.22,0.2,
 0.22,0.24,0.22,0.2,0.22,0.24,0.22,0.6,1.8,0.7,0.4,0.3,
 0.35,0.3,0.4,0.6,0.9,1.4,2.2,3.5,1.0,0.4,0.3,0.25,
 0.3,0.35,0.3,0.4,0.6,0.9,1.2,1.6,0.6,0.35,0.3,0.25,
 0.3,0.25,0.3,0.35,0.3,0.4,0.5,0.7,0.9,1.1,1.3,0.6,
 0.4,0.45,0.4,0.5,0.45,0.5,0.6,0.55,0.6,0.7,0.8,1.0,
 1.3,1.8,2.6,1.0,0.7,0.6,0.65,0.6,0.7,0.75,0.7,0.8,
 0.75,0.8,0.7,0.75,0.7,0.65,0.7,0.6,0.65,0.7,0.8,0.9];
const hh60 = [0.15,0.16,0.17,0.16,0.15,0.16,0.17,0.16,0.15,0.16,0.17,0.16,
 0.15,0.16,0.17,0.16,0.15,0.16,0.17,0.2,0.4,0.9,2.0,0.7,
 0.3,0.25,0.4,0.7,1.2,1.8,0.6,0.3,0.25,0.2,0.25,0.3,
 0.35,0.5,0.8,1.0,1.3,0.6,0.3,0.25,0.3,0.4,0.7,1.2,
 1.9,2.6,0.8,0.3,0.25,0.2,0.25,0.3,0.25,0.3,0.35,0.4,
 0.35,0.4,0.5,0.7,1.1,1.6,0.7,0.5,0.45,0.5,0.55,0.6,
 0.65,0.7,0.8,0.9,1.0,1.2,1.4,1.8,0.9,0.7,0.65,0.7,
 0.75,0.8,0.9,1.0,1.2,1.5,2.0,2.6,3.2,3.7,1.2,0.6];

const households = [hh01,hh02,hh03,hh04,hh05,hh06,hh07,hh08,hh09,hh10,
 hh11,hh12,hh13,hh14,hh15,hh16,hh17,hh18,hh19,hh20,
 hh21,hh22,hh23,hh24,hh25,hh26,hh27,hh28,hh29,hh30,
 hh31,hh32,hh33,hh34,hh35,hh36,hh37,hh38,hh39,hh40,
 hh41,hh42,hh43,hh44,hh45,hh46,hh47,hh48,hh49,hh50,
 hh51,hh52,hh53,hh54,hh55,hh56,hh57,hh58,hh59,hh60];

// ---------- DRAW ----------
const FONT = "'DejaVu Sans Mono','Liberation Mono',monospace";
const BLUE = "#1E90FF";
const svg = d3.select("#chart");
const plot = {left: 35.6, right: 855.5, top: 1.7, bottom: 293.3};

const xExt = d3.extent(timeIndex);
const allVals = households.flat().concat(clusterCenter);
const yExt = [0, d3.max(allVals)];
const xPad = (xExt[1] - xExt[0]) * 0.05, yPad = (yExt[1] - yExt[0]) * 0.05;
const x = d3.scaleLinear().domain([xExt[0] - xPad, xExt[1] + xPad]).range([plot.left, plot.right]);
const y = d3.scaleLinear().domain([yExt[0] - yPad, yExt[1] + yPad]).range([plot.bottom, plot.top]);

// vertical grid
svg.append("g").selectAll("line").data(xTickValues).join("line")
  .attr("x1", d => x(d)).attr("x2", d => x(d))
  .attr("y1", plot.top).attr("y2", plot.bottom)
  .attr("stroke", "#b0b0b0").attr("stroke-width", 0.8);

svg.append("clipPath").attr("id", "clip").append("rect")
  .attr("x", plot.left).attr("y", plot.top)
  .attr("width", plot.right - plot.left).attr("height", plot.bottom - plot.top);

const line = d3.line().x((d, i) => x(timeIndex[i])).y(d => y(d));
const lines = svg.append("g").attr("clip-path", "url(#clip)");
lines.selectAll("path.hh").data(households).join("path")
  .attr("class", "hh").attr("d", line).attr("fill", "none")
  .attr("stroke", BLUE).attr("stroke-opacity", 0.55).attr("stroke-width", 0.9);

lines.append("path").datum(clusterCenter).attr("d", line).attr("fill", "none")
  .attr("stroke", "red").attr("stroke-width", 1.8).attr("stroke-opacity", 0.9);
lines.selectAll("circle").data(clusterCenter).join("circle")
  .attr("cx", (d, i) => x(timeIndex[i])).attr("cy", d => y(d)).attr("r", 3.2)
  .attr("fill", "red").attr("fill-opacity", 0.9);

// axes
const fmt = d3.format("d");
const xAxis = d3.axisBottom(x).tickValues(xTickValues).tickFormat(fmt).tickSize(3.5).tickPadding(3);
const yAxis = d3.axisLeft(y).tickValues(yTickValues).tickFormat(fmt).tickSize(3.5).tickPadding(3);
const gx = svg.append("g").attr("transform", `translate(0,${plot.bottom})`).call(xAxis);
const gy = svg.append("g").attr("transform", `translate(${plot.left},0)`).call(yAxis);
[gx, gy].forEach(g => {
  g.select(".domain").remove();
  g.selectAll(".tick line").attr("stroke", "#000").attr("stroke-width", 0.8);
  g.selectAll(".tick text").attr("fill", "#000").attr("font-family", FONT).attr("font-size", 15)
    .attr("textLength", d => fmt(d).length * 6.6).attr("lengthAdjust", "spacingAndGlyphs");
});
gx.selectAll(".tick text").attr("dy", "0.72em");

// frame
svg.append("rect").attr("x", plot.left).attr("y", plot.top)
  .attr("width", plot.right - plot.left).attr("height", plot.bottom - plot.top)
  .attr("fill", "none").attr("stroke", "#000").attr("stroke-width", 0.8);

// titles
svg.append("text").attr("x", (plot.left + plot.right) / 2).attr("y", 326)
  .attr("text-anchor", "middle").attr("font-family", FONT).attr("font-size", 19)
  .attr("textLength", 98).attr("lengthAdjust", "spacingAndGlyphs").text(xTitle);
svg.append("text").attr("transform", `translate(18,${(plot.top + plot.bottom) / 2}) rotate(-90)`)
  .attr("text-anchor", "middle").attr("font-family", FONT).attr("font-size", 19)
  .attr("textLength", 70).attr("lengthAdjust", "spacingAndGlyphs").text(yTitle);

// legend
const lg = svg.append("g");
lg.append("rect").attr("x", 46).attr("y", 12).attr("width", 275).attr("height", 60)
  .attr("rx", 4).attr("fill", "#fff").attr("fill-opacity", 0.8)
  .attr("stroke", "#cccccc").attr("stroke-width", 1);
lg.append("line").attr("x1", 53).attr("x2", 95).attr("y1", 27).attr("y2", 27)
  .attr("stroke", BLUE).attr("stroke-opacity", 0.5).attr("stroke-width", 1);
lg.append("line").attr("x1", 53).attr("x2", 95).attr("y1", 54).attr("y2", 54)
  .attr("stroke", "red").attr("stroke-width", 2);
lg.append("circle").attr("cx", 74).attr("cy", 54).attr("r", 3.4).attr("fill", "red");
const legendWidths = [159, 199];
lg.selectAll("text").data(legendLabels).join("text")
  .attr("x", 111).attr("y", (d, i) => 33 + i * 27)
  .attr("font-family", FONT).attr("font-size", 18)
  .attr("textLength", (d, i) => legendWidths[i]).attr("lengthAdjust", "spacingAndGlyphs")
  .text(d => d);
</script>
</body></html>
